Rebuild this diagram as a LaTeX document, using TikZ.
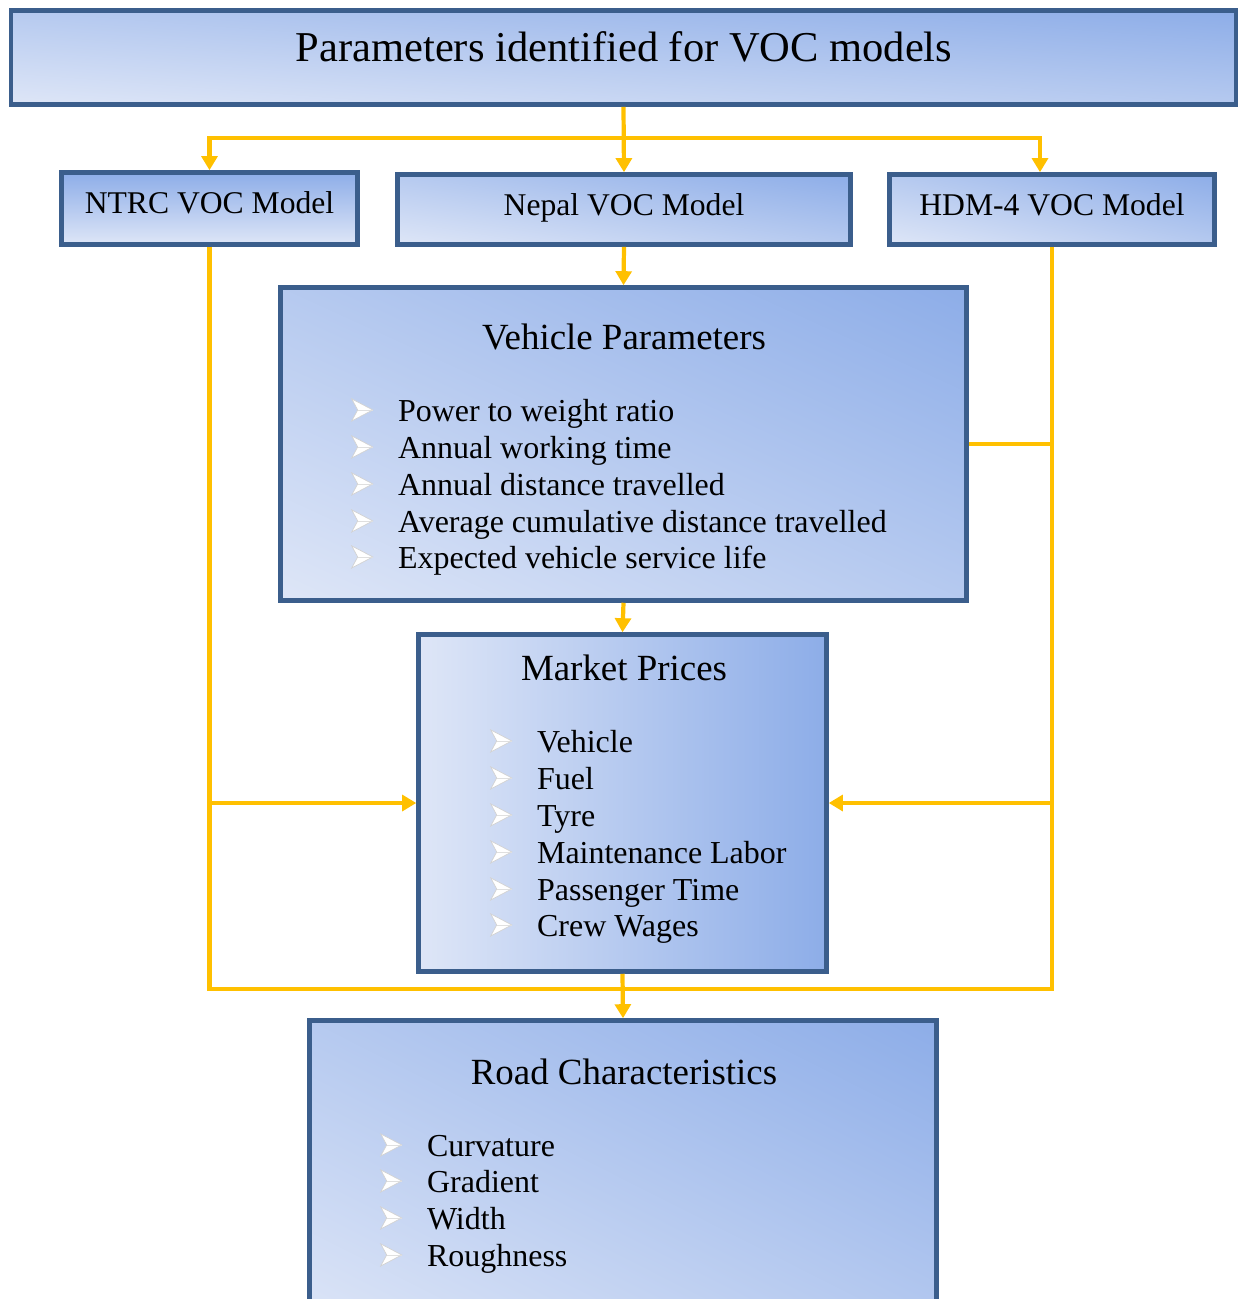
\documentclass[tikz,border=0pt]{standalone}
\usepackage{fontspec}
\setmainfont{Liberation Serif}
\usepackage{tikz}
\usetikzlibrary{arrows.meta}

\definecolor{vocedge}{RGB}{59,94,140}
\definecolor{vocgold}{RGB}{255,192,0}

% light (222,230,247) to dark (141,173,232)
\pgfdeclarefunctionalshading{vocdiag}{\pgfpoint{-50bp}{-50bp}}{\pgfpoint{50bp}{50bp}}{}{
  add 100 div 0.5 add
  dup -0.3177 mul 0.8706 add exch
  dup -0.2236 mul 0.9020 add exch
  -0.0588 mul 0.9686 add}
\pgfdeclarefunctionalshading{vochoriz}{\pgfpoint{-50bp}{-50bp}}{\pgfpoint{50bp}{50bp}}{}{
  pop 50 div 0.5 add
  dup -0.3177 mul 0.8706 add exch
  dup -0.2236 mul 0.9020 add exch
  -0.0588 mul 0.9686 add}
\pgfdeclarefunctionalshading{vocvert}{\pgfpoint{-50bp}{-50bp}}{\pgfpoint{50bp}{50bp}}{}{
  exch pop 50 div 0.5 add
  dup -0.3177 mul 0.8706 add exch
  dup -0.2236 mul 0.9020 add exch
  -0.0588 mul 0.9686 add}

% arrowhead bullet
\newcommand{\vocbullet}{\tikz[baseline=0pt,x=1pt,y=1pt]{%
  \filldraw[draw=gray!35, fill=white, line width=0.4pt] (0,0) -- (12,6.3) -- (0,12.6) -- (3.4,6.3) -- cycle;
  \draw[gray!25, line width=0.3pt] (3.4,6.3) -- (12,6.3);}}

\begin{document}
\begin{tikzpicture}[x=0.02cm, y=-0.02cm,
    box/.style={draw=vocedge, line width=2.6pt, shade, shading=vocdiag, inner sep=0pt},
    hbox/.style={box, shading=vochoriz},
    vbox/.style={box, shading=vocvert},
    link/.style={vocgold, line width=2.4pt, -{Triangle[width=9pt,length=8pt]}},
    wire/.style={vocgold, line width=2.4pt},
    head/.style={inner sep=0pt, anchor=base, font=\fontsize{24.2}{28}\selectfont},
    sub/.style={inner sep=0pt, anchor=base, font=\fontsize{18}{21}\selectfont},
    boxtitle/.style={inner sep=0pt, anchor=base, font=\fontsize{21}{24}\selectfont},
    item/.style={inner sep=0pt, anchor=base west, font=\fontsize{18.2}{21}\selectfont}]
  \useasboundingbox (0,0) rectangle (1239,1299);

  % boxes
  \node[box, minimum width=24.5cm, minimum height=1.88cm] (title) at (623.5,57.5) {};
  \node[vbox, minimum width=5.92cm, minimum height=1.44cm] (ntrc) at (209.5,208.5) {};
  \node[box, minimum width=9.06cm, minimum height=1.40cm] (nepal) at (624,209.5) {};
  \node[box, minimum width=6.5cm, minimum height=1.40cm] (hdm) at (1052,209.5) {};
  \node[box, minimum width=13.72cm, minimum height=6.26cm] (vehicle) at (623.5,444) {};
  \node[hbox, minimum width=8.16cm, minimum height=6.74cm] (market) at (622.5,803) {};
  \node[box, minimum width=12.54cm, minimum height=6.34cm] (road) at (623,1179) {};

  % texts
  \node[head] (titletxt) at (624,61) {Parameters identified for VOC models};
  \node[sub] (ntrctxt) at (209.5,213.5) {NTRC VOC Model};
  \node[sub] (nepaltxt) at (624,215.5) {Nepal VOC Model};
  \node[sub] (hdmtxt) at (1052,215.5) {HDM-4 VOC Model};

  \node[boxtitle] (vehtitle) at (624,349) {Vehicle Parameters};
  \node[item] (veh1) at (351,421) {\vocbullet\hspace{14.2pt}Power to weight ratio};
  \node[item] (veh2) at (351,458) {\vocbullet\hspace{14.2pt}Annual working time};
  \node[item] (veh3) at (351,495) {\vocbullet\hspace{14.2pt}Annual distance travelled};
  \node[item] (veh4) at (351,532) {\vocbullet\hspace{14.2pt}Average cumulative distance travelled};
  \node[item] (veh5) at (351,568) {\vocbullet\hspace{14.2pt}Expected vehicle service life};

  \node[boxtitle] (mkttitle) at (624,680) {Market Prices};
  \node[item] (mkt1) at (490,752) {\vocbullet\hspace{14.2pt}Vehicle};
  \node[item] (mkt2) at (490,789) {\vocbullet\hspace{14.2pt}Fuel};
  \node[item] (mkt3) at (490,826) {\vocbullet\hspace{14.2pt}Tyre};
  \node[item] (mkt4) at (490,863) {\vocbullet\hspace{14.2pt}Maintenance Labor};
  \node[item] (mkt5) at (490,900) {\vocbullet\hspace{14.2pt}Passenger Time};
  \node[item] (mkt6) at (490,936) {\vocbullet\hspace{14.2pt}Crew Wages};

  \node[boxtitle] (roadtitle) at (624,1084) {Road Characteristics};
  \node[item] (road1) at (380,1156) {\vocbullet\hspace{14.2pt}Curvature};
  \node[item] (road2) at (380,1192) {\vocbullet\hspace{14.2pt}Gradient};
  \node[item] (road3) at (380,1229) {\vocbullet\hspace{14.2pt}Width};
  \node[item] (road4) at (380,1266) {\vocbullet\hspace{14.2pt}Roughness};

  % connectors
  \coordinate (split) at (624,138);
  \coordinate (hdmin) at (1040,0);
  \coordinate (lowjoin) at (624,989);
  \draw[link] (title.south) -- (nepal.north);
  \draw[link] (split) -| (ntrc.north);
  \draw[link] (split) -| (hdm.north -| hdmin);
  \draw[link] (nepal.south) -- (vehicle.north);
  \draw[link] (vehicle.south) -- (market.north);
  \draw[link] (market.south) -- (road.north);
  \draw[wire] (ntrc.south) |- (lowjoin);
  \draw[wire] (hdm.south) |- (lowjoin);
  \draw[link] (ntrc.south |- market.west) -- (market.west);
  \draw[link] (hdm.south |- market.east) -- (market.east);
  \draw[wire] (hdm.south |- vehicle.east) -- (vehicle.east);
\end{tikzpicture}
\end{document}
